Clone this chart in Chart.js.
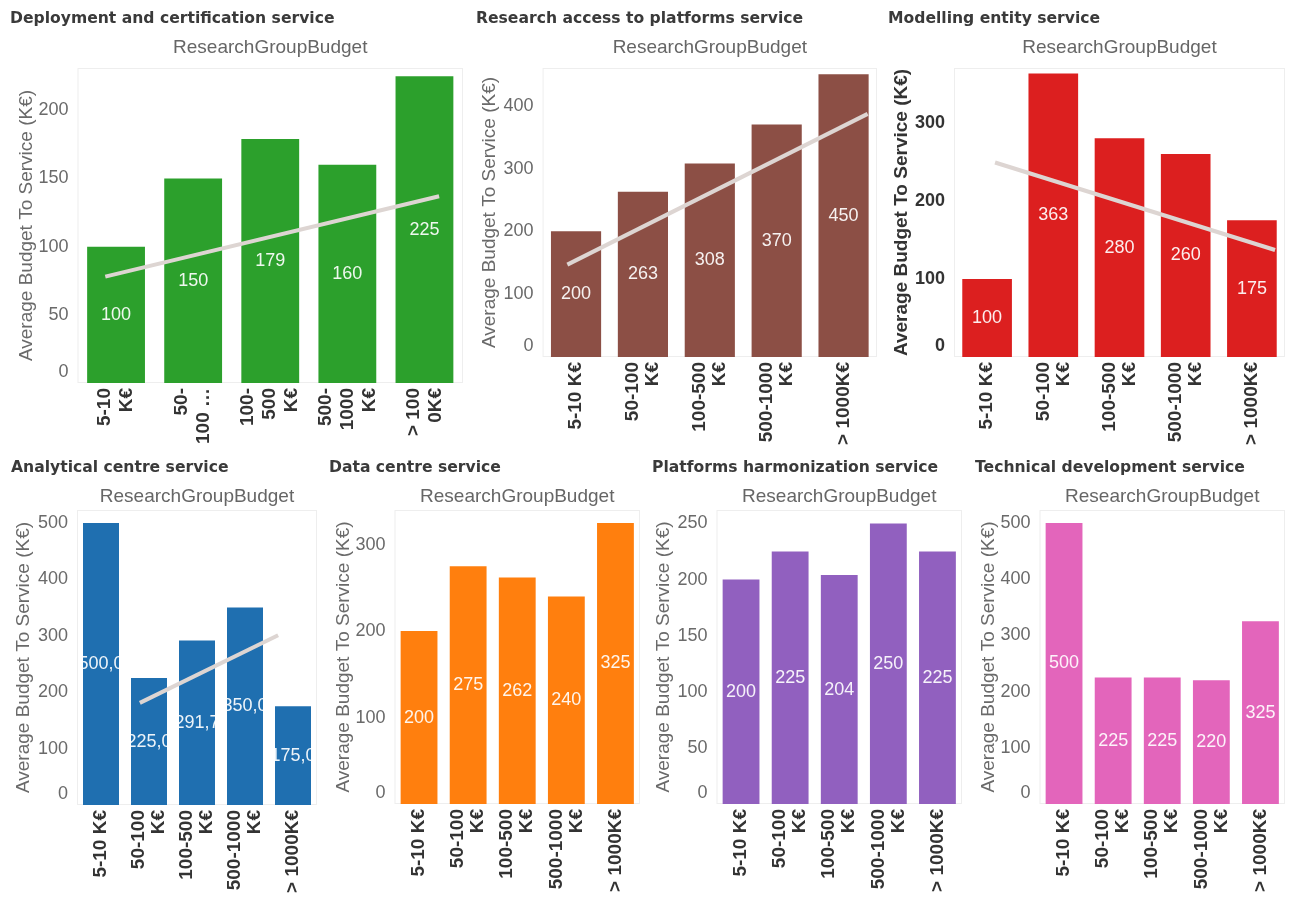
<!DOCTYPE html>
<html>
<head>
<meta charset="utf-8">
<script src="https://cdn.jsdelivr.net/npm/chart.js@4.4.1/dist/chart.umd.min.js"></script>
<style>
  html, body { margin: 0; padding: 0; background: #ffffff; width: 1290px; height: 897px; overflow: hidden; }
  .panel { position: absolute; }
</style>
</head>
<body>
<div class="panel" id="panel-deployment"><canvas></canvas></div>
<div class="panel" id="panel-research"><canvas></canvas></div>
<div class="panel" id="panel-modelling"><canvas></canvas></div>
<div class="panel" id="panel-analytical"><canvas></canvas></div>
<div class="panel" id="panel-datacentre"><canvas></canvas></div>
<div class="panel" id="panel-harmonization"><canvas></canvas></div>
<div class="panel" id="panel-technical"><canvas></canvas></div>
<script>
// Budget bands (x categories), one entry per wrapped line
const bandLabels = [["5-10 K€"], ["50-100", "K€"], ["100-500", "K€"], ["500-1000", "K€"], ["> 1000K€"]];
const bandLabelsNarrow = [["5-10", "K€"], ["50-", "100 …"], ["100-", "500", "K€"], ["500-", "1000", "K€"], ["> 100", "0K€"]];

const subtitleText = "ResearchGroupBudget";
const yAxisTitle = "Average Budget To Service (K€)";

// Average budget to service (K€) per research group budget band
const deploymentValues     = [100, 150, 179, 160, 225];
const researchAccessValues = [200, 263, 308, 370, 450];
const modellingValues      = [100, 363, 280, 260, 175];
const analyticalValues     = [500, 225, 291.7, 350, 175];
const dataCentreValues     = [200, 275, 262, 240, 325];
const harmonizationValues  = [200, 225, 204, 250, 225];
const technicalValues      = [500, 225, 225, 220, 325];

// Trend lines: endpoints as (band index, K€)
const deploymentTrend     = [{ x: -0.14, y: 78 },  { x: 4.19, y: 137 }];
const researchAccessTrend = [{ x: -0.13, y: 147 }, { x: 4.36, y: 387 }];
const modellingTrend      = [{ x: 0.12,  y: 249 }, { x: 4.35, y: 137 }];
const analyticalTrend     = [{ x: 0.81,  y: 181 }, { x: 3.69, y: 301 }];

const SANS = "'Liberation Sans', Arial, sans-serif";
const TITLE_FONT = "'DejaVu Sans', sans-serif";

// value printed in the middle of each bar, clipped to the bar
const barValueLabels = {
  id: 'barValueLabels',
  afterDatasetsDraw(chart, args, opts) {
    const ctx = chart.ctx;
    chart.data.datasets.forEach((ds, di) => {
      if (ds.type !== 'bar') return;
      const meta = chart.getDatasetMeta(di);
      meta.data.forEach((el, i) => {
        const w = el.width;
        ctx.save();
        ctx.beginPath();
        ctx.rect(el.x - w / 2, el.y, w, el.base - el.y);
        ctx.clip();
        ctx.fillStyle = 'rgba(255,255,255,0.92)';
        ctx.font = `18px ${SANS}`;
        ctx.textAlign = 'center';
        ctx.textBaseline = 'middle';
        ctx.fillText(opts.format(ds.data[i]), el.x, (el.y + el.base) / 2);
        ctx.restore();
      });
    });
  }
};

// rotated, wrapped band labels under the bars
const wrappedBandLabels = {
  id: 'wrappedBandLabels',
  afterDraw(chart, args, opts) {
    const s = chart.scales.x;
    const ctx = chart.ctx;
    chart.data.labels.forEach((lines, i) => {
      const x = s.getPixelForTick(i);
      lines.forEach((line, j) => {
        const cx = x + (j - (lines.length - 1) / 2) * opts.lineHeight;
        ctx.save();
        ctx.translate(cx, s.top + 5);
        ctx.rotate(-Math.PI / 2);
        ctx.font = `bold 19px ${SANS}`;
        ctx.fillStyle = '#333333';
        ctx.textAlign = 'right';
        ctx.textBaseline = 'middle';
        ctx.fillText(line, 0, 0);
        ctx.restore();
      });
    });
  }
};

// faint frame around the plot area
const plotFrame = {
  id: 'plotFrame',
  beforeDatasetsDraw(chart) {
    const a = chart.chartArea, ctx = chart.ctx;
    ctx.save();
    ctx.strokeStyle = '#eeeeee';
    ctx.lineWidth = 1;
    ctx.strokeRect(a.left + 0.5, a.top + 0.5, a.right - a.left - 1, a.bottom - a.top - 1);
    ctx.restore();
  }
};

function createPanel(p) {
  const host = document.getElementById(p.id);
  Object.assign(host.style, { left: p.left + 'px', top: p.top + 'px', width: p.width + 'px', height: p.height + 'px' });
  const datasets = [{
    type: 'bar',
    data: p.values,
    backgroundColor: p.color,
    borderWidth: 0,
    barPercentage: 0.75,
    categoryPercentage: 1.0,
    grouped: false,
    order: 2
  }];
  if (p.trend) {
    datasets.push({
      type: 'line',
      data: p.trend,
      xAxisID: 'xt',
      borderColor: '#ddd5d2',
      borderWidth: 4,
      pointRadius: 0,
      borderCapStyle: 'butt',
      order: 1
    });
  }
  const axisColor = p.boldAxis ? '#333333' : '#6a6a6a';
  const axisWeight = p.boldAxis ? 'bold' : 'normal';
  new Chart(host.querySelector('canvas'), {
    type: 'bar',
    data: { labels: p.labels, datasets },
    plugins: [barValueLabels, wrappedBandLabels, plotFrame],
    options: {
      responsive: true,
      maintainAspectRatio: false,
      animation: false,
      layout: { padding: { left: 0, right: 3, top: 0, bottom: 0 } },
      plugins: {
        legend: { display: false },
        tooltip: { enabled: false },
        title: {
          display: true, text: p.title, align: 'start', color: '#3a3a3a',
          font: { family: TITLE_FONT, size: 15.6, weight: 'bold', lineHeight: 1.2 },
          padding: { top: 10, bottom: 8.1 }
        },
        subtitle: {
          display: true, text: subtitleText, fullSize: false, color: '#666666',
          font: { family: SANS, size: 19, lineHeight: 1.2 },
          padding: { top: 0, bottom: p.subtitleGap }
        },
        barValueLabels: { format: p.format || (v => String(v)) },
        wrappedBandLabels: { lineHeight: p.lineHeight || 20 }
      },
      scales: {
        x: {
          type: 'category', offset: true,
          grid: { display: false, drawTicks: false }, border: { display: false },
          ticks: { display: false },
          afterFit: s => { s.height = p.xAxisHeight; }
        },
        xt: { type: 'linear', min: -0.5, max: 4.5, offset: false, display: false },
        y: {
          min: 0, max: p.yMax,
          grid: { display: false, drawTicks: false }, border: { display: false },
          ticks: {
            stepSize: p.step, padding: 9, color: axisColor, includeBounds: false,
            font: { family: SANS, size: 18, weight: axisWeight },
            callback: v => (v === 0 ? ['0', ''] : String(v))
          },
          afterBuildTicks: s => { s.ticks = s.ticks.filter(t => t.value % p.step === 0); },
          afterFit: s => { s.width = p.axisWidth; },
          title: {
            display: true, text: yAxisTitle, color: axisColor,
            font: { family: SANS, size: 19, weight: axisWeight, lineHeight: 1.2 },
            padding: { top: p.yTitlePad, bottom: 0 }
          }
        }
      }
    }
  });
}

createPanel({ id: 'panel-deployment', title: 'Deployment and certification service',
  left: 10, top: 0, width: 456, height: 445, axisWidth: 67.5, xAxisHeight: 62, yTitlePad: 5, subtitleGap: 8.4,
  labels: bandLabelsNarrow, lineHeight: 22, values: deploymentValues, trend: deploymentTrend,
  color: '#2ca02c', yMax: 231, step: 50 });

createPanel({ id: 'panel-research', title: 'Research access to platforms service',
  left: 476, top: 0, width: 404, height: 445, axisWidth: 66.6, xAxisHeight: 88, yTitlePad: 2, subtitleGap: 8.4,
  labels: bandLabels, values: researchAccessValues, trend: researchAccessTrend,
  color: '#8c4f45', yMax: 460, step: 100 });

createPanel({ id: 'panel-modelling', title: 'Modelling entity service',
  left: 888, top: 0, width: 400, height: 445, axisWidth: 66, xAxisHeight: 88, yTitlePad: 2, subtitleGap: 8.4,
  labels: bandLabels, values: modellingValues, trend: modellingTrend, boldAxis: true,
  color: '#dc1f1f', yMax: 370, step: 100 });

createPanel({ id: 'panel-analytical', title: 'Analytical centre service',
  left: 11, top: 449, width: 309, height: 448, axisWidth: 66, xAxisHeight: 92, yTitlePad: 1, subtitleGap: 1.4,
  labels: bandLabels, values: analyticalValues, trend: analyticalTrend,
  format: v => v.toFixed(1).replace('.', ','),
  color: '#1f6fb0', yMax: 523, step: 100 });

createPanel({ id: 'panel-datacentre', title: 'Data centre service',
  left: 329, top: 449, width: 314, height: 448, axisWidth: 65.5, xAxisHeight: 93, yTitlePad: 3, subtitleGap: 1.4,
  labels: bandLabels, values: dataCentreValues,
  color: '#ff7f0e', yMax: 340, step: 100 });

createPanel({ id: 'panel-harmonization', title: 'Platforms harmonization service',
  left: 652, top: 449, width: 313, height: 448, axisWidth: 64.5, xAxisHeight: 93, yTitlePad: 0, subtitleGap: 1.4,
  labels: bandLabels, values: harmonizationValues,
  color: '#9160bf', yMax: 262, step: 50 });

createPanel({ id: 'panel-technical', title: 'Technical development service',
  left: 975, top: 449, width: 313, height: 448, axisWidth: 64.5, xAxisHeight: 93, yTitlePad: 2, subtitleGap: 1.4,
  labels: bandLabels, values: technicalValues,
  color: '#e365bb', yMax: 523, step: 100 });
</script>
</body>
</html>
